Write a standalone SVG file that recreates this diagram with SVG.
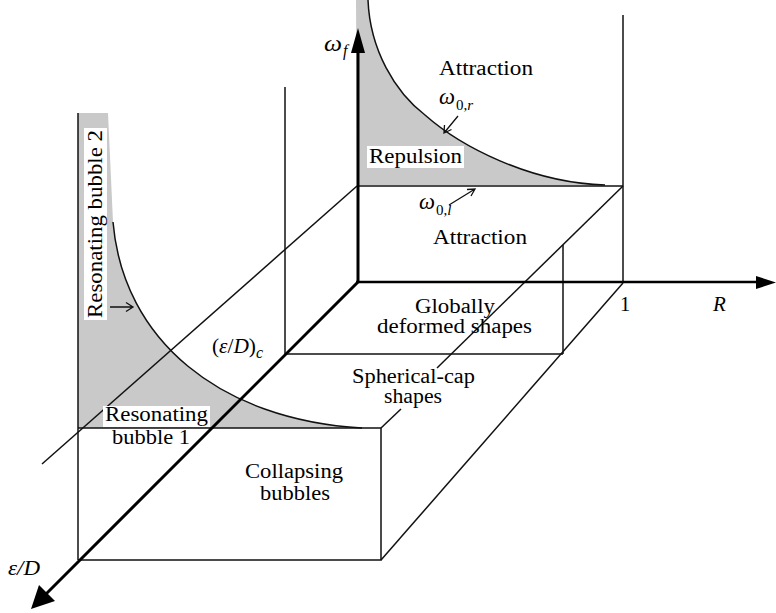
<svg xmlns="http://www.w3.org/2000/svg" width="776" height="613" viewBox="0 0 776 613">
<style>
.ln{fill:none;stroke:#111;stroke-width:1.5;stroke-linejoin:miter}
.ax{fill:none;stroke:#000;stroke-width:3}
.sh{fill:#c9c9c9;stroke:none}
.t{font-family:"Liberation Serif","Times New Roman",serif;font-size:20.5px;fill:#000}
.it{font-family:"Liberation Serif","Times New Roman",serif;font-style:italic;fill:#000}
.bg{fill:#fff;stroke:none}
.ar{fill:none;stroke:#111;stroke-width:1.3}
</style>
<rect width="776" height="613" fill="#fff"/>

<g id="shading">
  <path class="sh" d="M356,0 L368,0 C370,50 395,92 425,115 C460,146 530,183 605,185 L357,185 Z"/>
  <path class="sh" d="M78,113 L108,113 L113,222 C123,340 220,420 362,428 L78,428 Z"/>
</g>

<g id="connectors">
  <path class="ln" d="M368,0 C370,50 395,92 425,115 C460,146 530,183 605,185"/>
  <path class="ln" d="M113,222 C123,340 220,420 362,428"/>
  <line class="ln" x1="623" y1="15" x2="623" y2="283"/>
  <line class="ln" x1="357" y1="186" x2="623" y2="186"/>
  <line class="ln" x1="623" y1="186" x2="437" y2="368"/>
  <line class="ln" x1="401" y1="409" x2="381" y2="428"/>
  <line class="ln" x1="357" y1="186" x2="42" y2="464"/>
  <line class="ln" x1="285" y1="87" x2="285" y2="354"/>
  <line class="ln" x1="285" y1="354" x2="563" y2="354"/>
  <line class="ln" x1="563" y1="245" x2="563" y2="354"/>
  <line class="ln" x1="623" y1="283" x2="381" y2="560"/>
  <line class="ln" x1="78" y1="113" x2="78" y2="560"/>
  <path class="ln" d="M78,428 L381,428 L381,560 L78,560"/>
  <path class="ar" d="M110,307 L133,307 M126,302.5 L133,307 L126,311.5"/>
  <path class="ar" d="M458,116 L444,133 M444.5,125 L444,133 L451.5,129.5"/>
  <path class="ar" d="M449,205 L475,189 M467,189.5 L475,189 L471,196"/>
</g>

<g id="axes">
  <line class="ax" x1="358" y1="283" x2="358" y2="50"/>
  <polygon points="358,28 351,53 365,53" fill="#000"/>
  <line class="ax" x1="356" y1="282" x2="758" y2="282" style="stroke-width:2.5"/>
  <polygon points="776,282.5 756,276 756,289" fill="#000"/>
  <line class="ax" x1="358" y1="282" x2="46" y2="594"/>
  <polygon points="31,609 39,585 55,601" fill="#000"/>
</g>

<g id="label-attraction-top"><text class="t" x="439" y="75" textLength="94" lengthAdjust="spacingAndGlyphs">Attraction</text></g>
<g id="label-repulsion">
  <rect class="bg" x="367" y="146" width="97" height="22"/>
  <text class="t" x="369" y="163" textLength="93" lengthAdjust="spacingAndGlyphs">Repulsion</text>
</g>
<g id="label-omega-r">
  <text class="it" x="439" y="104" font-size="23" textLength="16" lengthAdjust="spacingAndGlyphs">ω</text>
  <text x="456" y="110" class="t" style="font-size:15px">0,<tspan class="it">r</tspan></text>
</g>
<g id="label-omega-l">
  <text class="it" x="419" y="209" font-size="23" textLength="16" lengthAdjust="spacingAndGlyphs">ω</text>
  <text x="436" y="215" class="t" style="font-size:15px">0,<tspan class="it">l</tspan></text>
</g>
<g id="label-attraction-bottom"><text class="t" x="433" y="244" textLength="94" lengthAdjust="spacingAndGlyphs">Attraction</text></g>
<g id="label-omega-f">
  <text class="it" x="324" y="51" font-size="23" textLength="18" lengthAdjust="spacingAndGlyphs">ω</text>
  <text class="it" x="343" y="56" font-size="16">f</text>
</g>
<g id="label-R"><text class="it" x="713" y="311" font-size="21">R</text></g>
<g id="label-1"><text class="t" x="620" y="311">1</text></g>
<g id="label-globally">
  <text class="t" x="415" y="313" textLength="80" lengthAdjust="spacingAndGlyphs">Globally</text>
  <text class="t" x="377" y="333" textLength="155" lengthAdjust="spacingAndGlyphs">deformed shapes</text>
</g>
<g id="label-spherical">
  <text class="t" x="352" y="383" textLength="123" lengthAdjust="spacingAndGlyphs">Spherical-cap</text>
  <text class="t" x="384" y="403" textLength="58" lengthAdjust="spacingAndGlyphs">shapes</text>
</g>
<g id="label-epsc">
  <text class="t" x="212" y="353" textLength="44" lengthAdjust="spacingAndGlyphs">(<tspan class="it">ε</tspan>/<tspan class="it">D</tspan>)</text>
  <text class="it" x="256" y="358" font-size="16">c</text>
</g>
<g id="label-resonating1">
  <rect class="bg" x="103" y="406" width="107" height="21"/>
  <text class="t" x="105" y="421" textLength="103" lengthAdjust="spacingAndGlyphs">Resonating</text>
  <text class="t" x="112" y="444" textLength="78" lengthAdjust="spacingAndGlyphs">bubble 1</text>
</g>
<g id="label-resonating2">
  <rect class="bg" x="84" y="128" width="23" height="192"/>
  <text class="t" transform="translate(102,318) rotate(-90)" x="0" y="0" textLength="188" lengthAdjust="spacingAndGlyphs">Resonating bubble 2</text>
</g>
<g id="label-collapsing">
  <text class="t" x="245" y="478" textLength="98" lengthAdjust="spacingAndGlyphs">Collapsing</text>
  <text class="t" x="260" y="500" textLength="70" lengthAdjust="spacingAndGlyphs">bubbles</text>
</g>
<g id="label-epsD"><text class="it" x="8" y="575" font-size="22" textLength="32" lengthAdjust="spacingAndGlyphs">ε/D</text></g>
</svg>
